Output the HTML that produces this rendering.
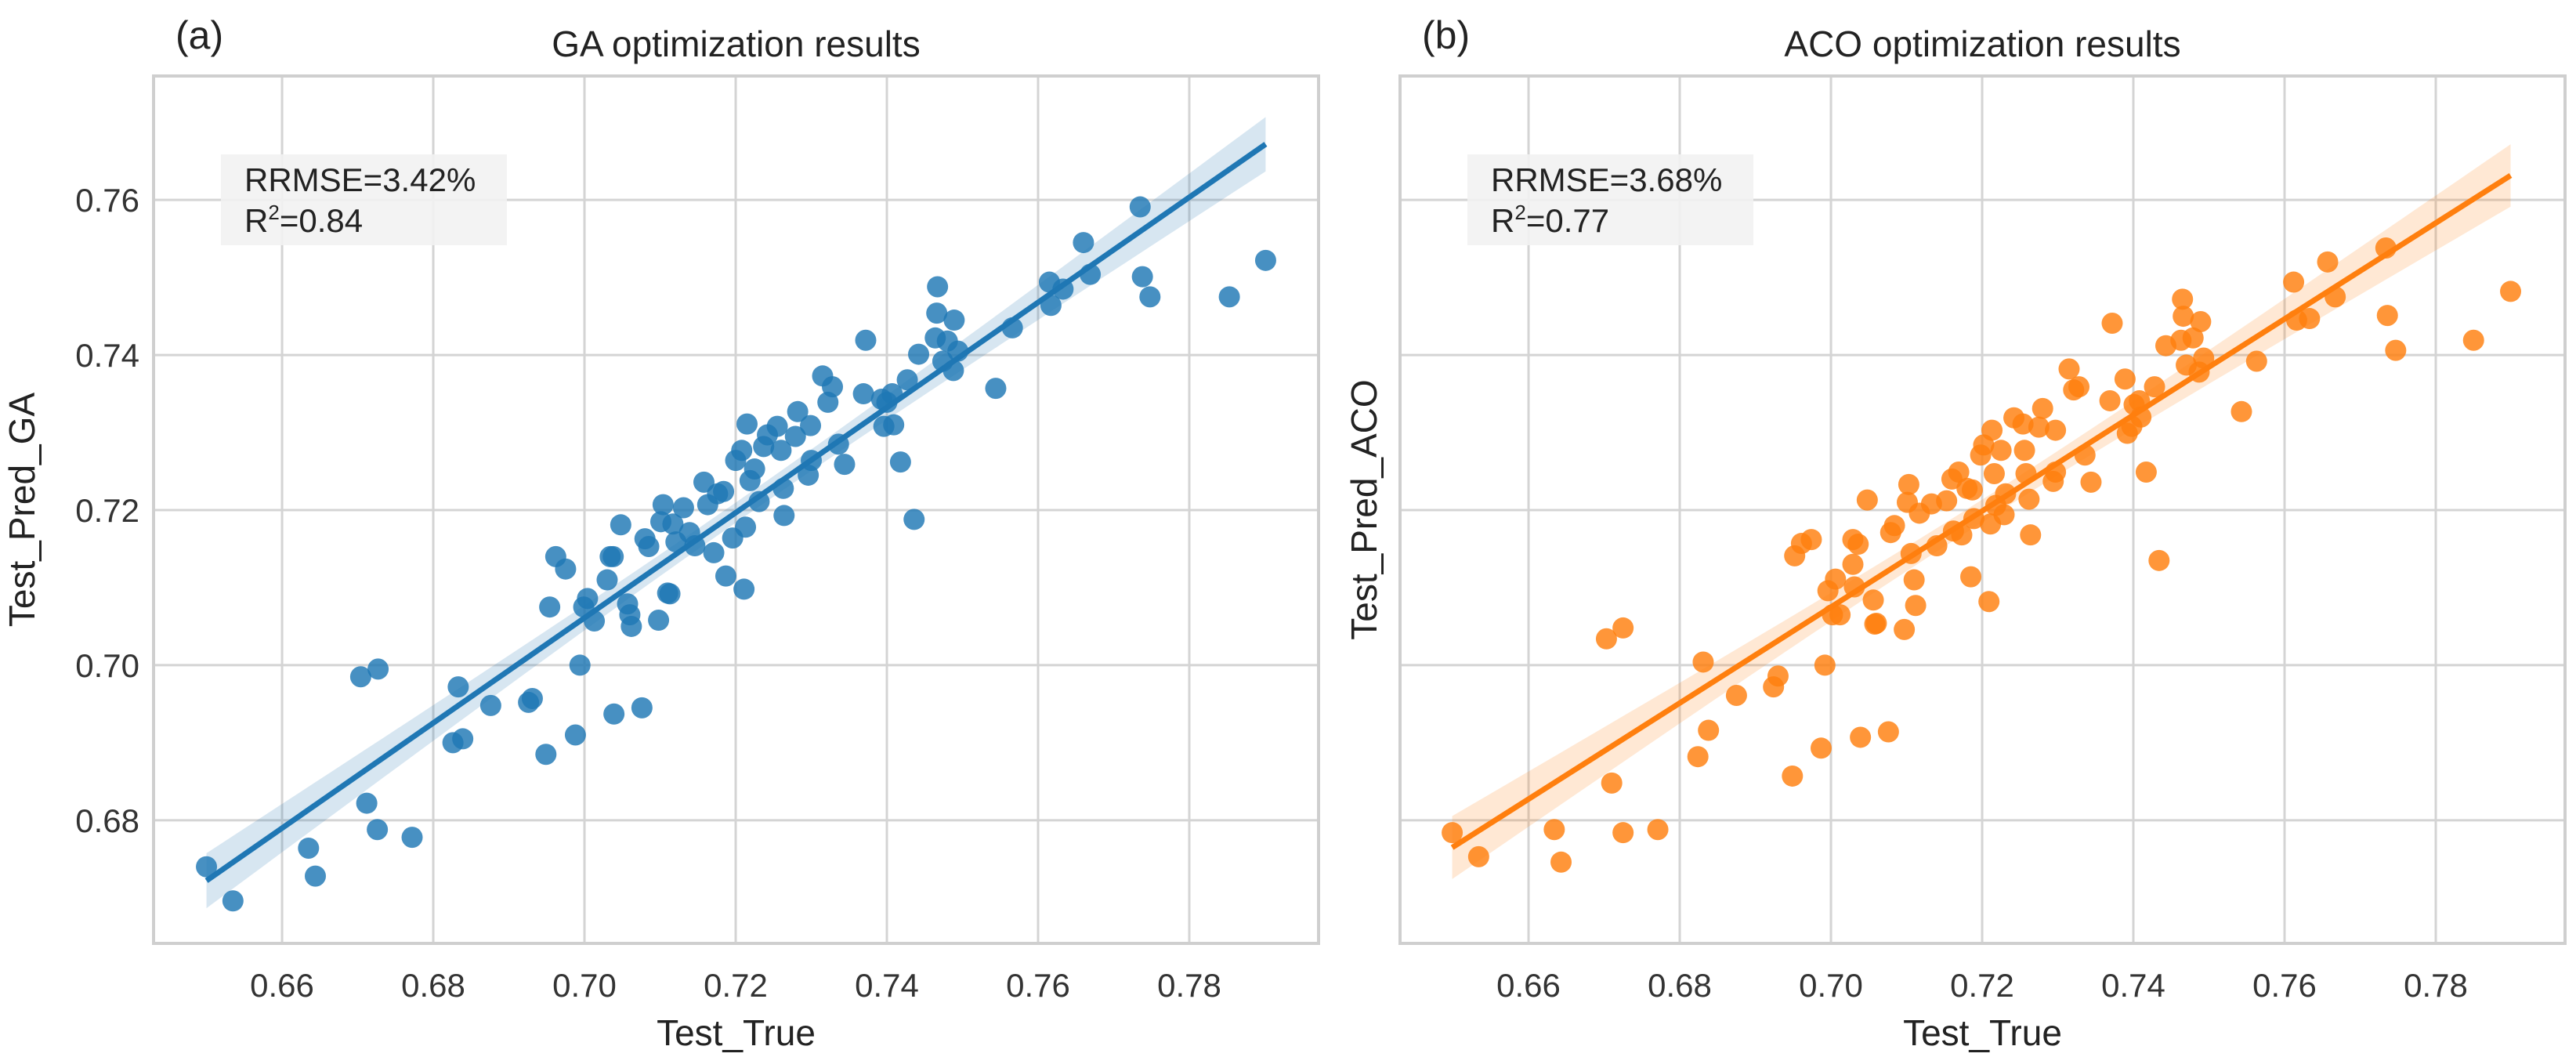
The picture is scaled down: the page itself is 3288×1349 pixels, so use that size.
<!DOCTYPE html>
<html><head><meta charset="utf-8">
<style>
html,body{margin:0;padding:0;background:#fff;}
svg{display:block;font-family:"Liberation Sans",sans-serif;}
</style></head>
<body>
<svg id="fig" width="3288" height="1349" viewBox="0 0 3288 1349" xmlns="http://www.w3.org/2000/svg"></svg>
<script>
const xTicks = [0.66,0.68,0.70,0.72,0.74,0.76,0.78];
const yTicks = [0.68,0.70,0.72,0.74,0.76];
const tickLabels = ["0.66","0.68","0.70","0.72","0.74","0.76","0.78"];
const yTickLabels = ["0.68","0.70","0.72","0.74","0.76"];
const gaTrue = [0.650,0.6535,0.6635,0.6644,0.6704,0.6727,0.6712,0.6726,0.6772,0.6833,0.6826,0.6839,0.6876,0.6926,0.6931,0.6949,0.6988,0.6994,0.6954,0.6962,0.6975,0.6999,0.7004,0.7013,0.703,0.7034,0.7038,0.7039,0.7048,0.7057,0.706,0.7062,0.7076,0.708,0.7085,0.7098,0.7104,0.7101,0.711,0.7113,0.7117,0.7121,0.7131,0.7139,0.7146,0.7158,0.7163,0.7171,0.7176,0.7184,0.7187,0.7196,0.720,0.7208,0.7211,0.7213,0.7215,0.7219,0.7225,0.7231,0.7237,0.7242,0.7255,0.726,0.7263,0.7264,0.7279,0.7282,0.7296,0.7299,0.73,0.7315,0.7322,0.7328,0.7336,0.7344,0.7369,0.7372,0.7393,0.7396,0.74,0.7407,0.7409,0.7418,0.7427,0.7436,0.7442,0.7464,0.7466,0.7467,0.7474,0.748,0.7488,0.7489,0.7494,0.7544,0.7566,0.7615,0.7617,0.7633,0.766,0.7669,0.7735,0.7738,0.7748,0.7853,0.7901];
const gaPred = [0.674,0.6696,0.6764,0.6728,0.6985,0.6995,0.6822,0.6788,0.6778,0.6972,0.690,0.6905,0.6948,0.6952,0.6957,0.6885,0.691,0.700,0.7075,0.714,0.7124,0.7075,0.7086,0.7057,0.711,0.714,0.714,0.6937,0.7181,0.7079,0.7065,0.705,0.6945,0.7163,0.7153,0.7058,0.7207,0.7185,0.7093,0.7092,0.7182,0.7159,0.7203,0.7171,0.7154,0.7236,0.7207,0.7145,0.7221,0.7224,0.7115,0.7164,0.7264,0.7277,0.7098,0.7178,0.7311,0.7238,0.7253,0.7211,0.7282,0.7297,0.7308,0.7277,0.7228,0.7193,0.7295,0.7327,0.7245,0.7309,0.7264,0.7373,0.7339,0.7359,0.7285,0.7259,0.735,0.7419,0.7343,0.7308,0.7339,0.735,0.731,0.7262,0.7368,0.7188,0.7401,0.7422,0.7454,0.7488,0.7392,0.7418,0.738,0.7445,0.7405,0.7357,0.7435,0.7494,0.7464,0.7485,0.7545,0.7504,0.7591,0.7501,0.7475,0.7475,0.7522];
const acoTrue = [0.6499,0.6534,0.6634,0.6643,0.6703,0.6725,0.671,0.6725,0.6771,0.6831,0.6838,0.6824,0.6875,0.6924,0.693,0.6949,0.6987,0.6992,0.6952,0.6961,0.6974,0.6996,0.7006,0.7002,0.7012,0.7029,0.7036,0.7029,0.7031,0.7039,0.7048,0.7056,0.706,0.7058,0.7076,0.7079,0.7084,0.7097,0.7103,0.7101,0.711,0.7112,0.7106,0.7117,0.7133,0.714,0.7153,0.7162,0.716,0.7169,0.7173,0.718,0.7187,0.7185,0.7189,0.7198,0.7202,0.7209,0.7211,0.7213,0.7216,0.7218,0.7225,0.7229,0.7231,0.7242,0.7254,0.7256,0.7258,0.7262,0.7264,0.7275,0.728,0.7294,0.7297,0.7297,0.7315,0.7321,0.7328,0.7336,0.7344,0.7369,0.7372,0.7389,0.7392,0.7398,0.7401,0.7408,0.741,0.7417,0.7428,0.7434,0.7443,0.7463,0.7465,0.7466,0.747,0.7479,0.7487,0.7489,0.7493,0.7543,0.7563,0.7612,0.7616,0.7633,0.7657,0.7667,0.7734,0.7736,0.7747,0.785,0.7899];
const acoPred = [0.6784,0.6753,0.6788,0.6746,0.7034,0.7048,0.6848,0.6784,0.6788,0.7004,0.6916,0.6882,0.6961,0.6972,0.6986,0.6857,0.6893,0.700,0.7141,0.7157,0.7162,0.7096,0.7111,0.7065,0.7065,0.7162,0.7156,0.713,0.7101,0.6907,0.7213,0.7084,0.7054,0.7053,0.6914,0.7171,0.718,0.7046,0.7233,0.721,0.711,0.7077,0.7144,0.7196,0.7208,0.7154,0.7212,0.7173,0.724,0.7249,0.7168,0.7228,0.7226,0.7114,0.7189,0.7271,0.7284,0.7082,0.7182,0.7303,0.7247,0.7206,0.7277,0.7194,0.7221,0.7319,0.7311,0.7277,0.7247,0.7214,0.7168,0.7307,0.7331,0.7237,0.7303,0.7249,0.7382,0.7355,0.7359,0.7271,0.7236,0.7341,0.7441,0.7369,0.7299,0.7308,0.7336,0.7341,0.732,0.7249,0.7359,0.7135,0.7412,0.7419,0.7472,0.745,0.7387,0.7422,0.7378,0.7443,0.7396,0.7327,0.7392,0.7494,0.7445,0.7447,0.752,0.7475,0.7538,0.7451,0.7406,0.7419,0.7482];

const NS="http://www.w3.org/2000/svg";
const svg=document.getElementById('fig');
function mk(tag,attrs,parent){const e=document.createElementNS(NS,tag);for(const k in attrs)e.setAttribute(k,attrs[k]);(parent||svg).appendChild(e);return e;}

const X0=0.64300,X1=0.79710,Y0=0.66412,Y1=0.77598;
const PW=1487,T=97,B=1204;

function drawPanel(off,xs,ys,color,bandColor,title,letter,ylabel,stats,showY,key){
  const L=196+off,R=L+PW;
  const sx=v=>L+(v-X0)/(X1-X0)*PW;
  const sy=v=>B-(v-Y0)/(Y1-Y0)*(B-T);
  const g=mk('g',{});
  
  
  // grid
  xTicks.forEach((t,i)=>{
    const l=mk('line',{x1:sx(t),x2:sx(t),y1:T,y2:B,stroke:'#d4d4d4','stroke-width':3},g);
    
    
    const tx=mk('text',{x:sx(t),y:1272,'font-size':42,fill:'#333','text-anchor':'middle'},g);
    tx.textContent=tickLabels[i];
    
    
  });
  yTicks.forEach((t,i)=>{
    const l=mk('line',{x1:L,x2:R,y1:sy(t),y2:sy(t),stroke:'#d4d4d4','stroke-width':3},g);
    
    
    if(showY){
      const tx=mk('text',{x:L-18,y:sy(t)+15,'font-size':42,fill:'#333','text-anchor':'end'},g);
      tx.textContent=yTickLabels[i];
      
      
    }
  });
  // regression
  const n=xs.length;let mx=0,my=0;xs.forEach((v,i)=>{mx+=v;my+=ys[i];});mx/=n;my/=n;
  let sxx=0,sxy=0;xs.forEach((v,i)=>{sxx+=(v-mx)*(v-mx);sxy+=(v-mx)*(ys[i]-my);});
  const b=sxy/sxx,a=my-b*mx;let sse=0;xs.forEach((v,i)=>{const r=ys[i]-(a+b*v);sse+=r*r;});
  const s=Math.sqrt(sse/(n-2));
  const xmin=Math.min(...xs),xmax=Math.max(...xs);
  const up=[],lo=[];
  for(let k=0;k<=60;k++){const xv=xmin+(xmax-xmin)*k/60;const se=s*Math.sqrt(1/n+(xv-mx)*(xv-mx)/sxx)*1.98;
    up.push(sx(xv)+','+sy(a+b*xv+se));lo.unshift(sx(xv)+','+sy(a+b*xv-se));}
  const band=mk('polygon',{points:up.concat(lo).join(' '),fill:bandColor,'fill-opacity':0.18},g);
  
  
  // points
  xs.forEach((v,i)=>{
    const c=mk('circle',{cx:sx(v),cy:sy(ys[i]),r:13.5,fill:color,'fill-opacity':0.82},g);
    
    
  });
  const rl=mk('line',{x1:sx(xmin),y1:sy(a+b*xmin),x2:sx(xmax),y2:sy(a+b*xmax),stroke:color,'stroke-width':7},g);
  
  
  // frame
  const fr=mk('rect',{x:L,y:T,width:PW,height:B-T,fill:'none',stroke:'#cfcfcf','stroke-width':4},g);
  
  
  // stats box
  const bx=mk('rect',{x:L+86,y:197,width:365,height:116,fill:'#f2f2f2','fill-opacity':0.9},g);
  
  
  const t1=mk('text',{x:L+116,y:244,'font-size':42,fill:'#222'},g);
  t1.textContent=stats[0];
  
  
  const t2=mk('text',{x:L+116,y:296,'font-size':42,fill:'#222'},g);
  t2.innerHTML='R<tspan font-size="26" dy="-16">2</tspan><tspan dy="16">='+stats[1]+'</tspan>';
  
  
  // title
  const tt=mk('text',{x:L+PW/2,y:72,'font-size':46,fill:'#222','text-anchor':'middle'},g);
  tt.textContent=title;
  
  
  const lt=mk('text',{x:L+28,y:62,'font-size':50,fill:'#222'},g);
  lt.textContent=letter;
  
  
  const xl=mk('text',{x:L+PW/2,y:1334,'font-size':46,fill:'#222','text-anchor':'middle'},g);
  xl.textContent='Test_True';
  
  
  const ylx=showY?44:L-30;
  const yl=mk('text',{x:ylx,y:(T+B)/2,'font-size':46,fill:'#222','text-anchor':'middle',transform:'rotate(-90 '+ylx+' '+((T+B)/2)+')'},g);
  yl.textContent=ylabel;
  
  
}
drawPanel(0,gaTrue,gaPred,'#1f77b4','#1f77b4','GA optimization results','(a)','Test_Pred_GA',['RRMSE=3.42%','0.84'],true,'ga');
drawPanel(1591,acoTrue,acoPred,'#ff7f0e','#ff7f0e','ACO optimization results','(b)','Test_Pred_ACO',['RRMSE=3.68%','0.77'],false,'aco');
</script>
</body></html>
